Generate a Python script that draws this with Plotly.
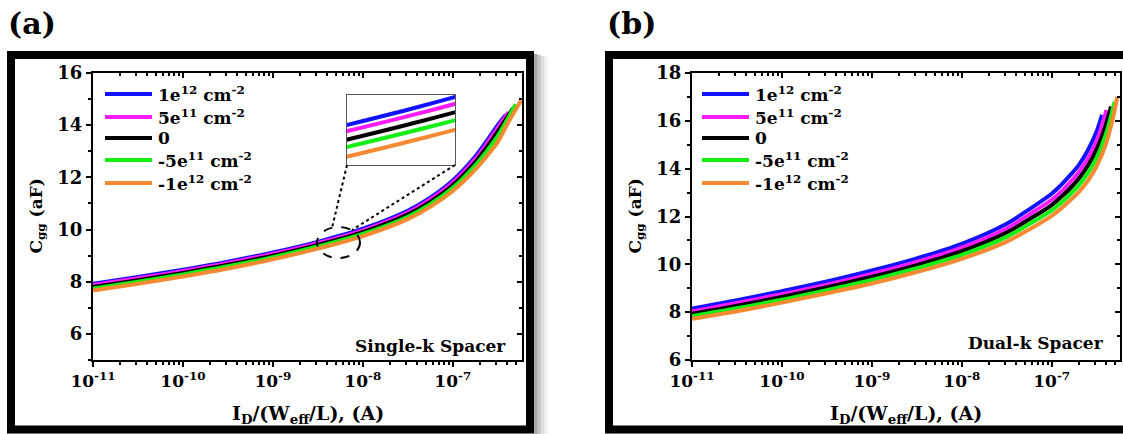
import plotly.graph_objects as go

W, H = 1123, 434

# ---------------- data ----------------
series_names = ["1e<sup>12</sup> cm<sup>-2</sup>", "5e<sup>11</sup> cm<sup>-2</sup>", "0",
                "-5e<sup>11</sup> cm<sup>-2</sup>", "-1e<sup>12</sup> cm<sup>-2</sup>"]
series_colors = ["#1212FF", "#FF1AFF", "#000000", "#14F014", "#F58A33"]

# (a) Single-k spacer: drain current per unit W/L (A) and gate capacitance (aF)
id_a = [
    [1e-11, 3.16e-11, 1e-10, 3.16e-10, 1e-9, 3.16e-9, 1e-8, 3.16e-8, 5.62e-8, 1e-7, 1.78e-7, 2.51e-7, 3.16e-7, 3.89e-7],
    [1e-11, 3.16e-11, 1e-10, 3.16e-10, 1e-9, 3.16e-9, 1e-8, 3.16e-8, 5.62e-8, 1e-7, 1.78e-7, 2.51e-7, 3.16e-7, 4.17e-7],
    [1e-11, 3.16e-11, 1e-10, 3.16e-10, 1e-9, 3.16e-9, 1e-8, 3.16e-8, 5.62e-8, 1e-7, 1.78e-7, 2.51e-7, 3.16e-7, 4.68e-7],
    [1e-11, 3.16e-11, 1e-10, 3.16e-10, 1e-9, 3.16e-9, 1e-8, 3.16e-8, 5.62e-8, 1e-7, 1.78e-7, 2.51e-7, 3.16e-7, 5.01e-7],
    [1e-11, 3.16e-11, 1e-10, 3.16e-10, 1e-9, 3.16e-9, 1e-8, 3.16e-8, 5.62e-8, 1e-7, 1.78e-7, 2.51e-7, 3.16e-7, 3.98e-7, 5.75e-7],
]
cgg_a = [
    [7.92, 8.18, 8.46, 8.77, 9.12, 9.53, 10.03, 10.72, 11.22, 11.88, 12.80, 13.50, 14.00, 14.40],
    [7.87, 8.13, 8.41, 8.72, 9.07, 9.48, 9.97, 10.65, 11.15, 11.80, 12.70, 13.40, 13.90, 14.50],
    [7.80, 8.06, 8.34, 8.65, 9.00, 9.41, 9.90, 10.57, 11.06, 11.70, 12.58, 13.25, 13.75, 14.65],
    [7.74, 8.00, 8.28, 8.59, 8.94, 9.35, 9.83, 10.49, 10.97, 11.60, 12.46, 13.10, 13.58, 14.80],
    [7.66, 7.92, 8.20, 8.51, 8.86, 9.27, 9.75, 10.40, 10.87, 11.48, 12.30, 12.90, 13.35, 14.00, 14.95],
]

# (b) Dual-k spacer
id_b = [
    [1e-11, 3.16e-11, 1e-10, 3.16e-10, 1e-9, 3.16e-9, 1e-8, 3.16e-8, 5.62e-8, 1e-7, 1.26e-7, 1.58e-7, 2.0e-7, 2.51e-7, 3.16e-7, 3.63e-7],
    [1e-11, 3.16e-11, 1e-10, 3.16e-10, 1e-9, 3.16e-9, 1e-8, 3.16e-8, 5.62e-8, 1e-7, 1.26e-7, 1.58e-7, 2.0e-7, 2.51e-7, 3.16e-7, 4.07e-7],
    [1e-11, 3.16e-11, 1e-10, 3.16e-10, 1e-9, 3.16e-9, 1e-8, 3.16e-8, 5.62e-8, 1e-7, 1.26e-7, 1.58e-7, 2.0e-7, 2.51e-7, 3.16e-7, 3.98e-7, 4.57e-7],
    [1e-11, 3.16e-11, 1e-10, 3.16e-10, 1e-9, 3.16e-9, 1e-8, 3.16e-8, 5.62e-8, 1e-7, 1.26e-7, 1.58e-7, 2.0e-7, 2.51e-7, 3.16e-7, 3.98e-7, 5.01e-7],
    [1e-11, 3.16e-11, 1e-10, 3.16e-10, 1e-9, 3.16e-9, 1e-8, 3.16e-8, 5.62e-8, 1e-7, 1.26e-7, 1.58e-7, 2.0e-7, 2.51e-7, 3.16e-7, 3.98e-7, 4.79e-7, 5.37e-7],
]
cgg_b = [
    [8.15, 8.50, 8.88, 9.28, 9.74, 10.25, 10.86, 11.70, 12.30, 12.95, 13.30, 13.70, 14.15, 14.75, 15.55, 16.25],
    [8.03, 8.38, 8.75, 9.15, 9.60, 10.10, 10.70, 11.50, 12.08, 12.70, 13.02, 13.40, 13.85, 14.40, 15.15, 16.45],
    [7.93, 8.27, 8.64, 9.04, 9.48, 9.97, 10.55, 11.33, 11.88, 12.48, 12.80, 13.15, 13.58, 14.10, 14.80, 15.80, 16.60],
    [7.83, 8.16, 8.52, 8.92, 9.35, 9.84, 10.40, 11.15, 11.68, 12.26, 12.56, 12.90, 13.30, 13.80, 14.45, 15.40, 16.80],
    [7.72, 8.04, 8.40, 8.79, 9.20, 9.68, 10.23, 10.95, 11.46, 12.03, 12.32, 12.65, 13.02, 13.48, 14.10, 15.00, 16.10, 17.00],
]

x_tickvals = [1e-11, 1e-10, 1e-9, 1e-8, 1e-7]
x_ticktext = ["10<sup>-11</sup>", "10<sup>-10</sup>", "10<sup>-9</sup>", "10<sup>-8</sup>", "10<sup>-7</sup>"]
x_minor = [m * d for d in [1e-11, 1e-10, 1e-9, 1e-8, 1e-7] for m in range(2, 10)]
ya_ticks = [6, 8, 10, 12, 14, 16]
yb_ticks = [6, 8, 10, 12, 14, 16, 18]
panel_notes = ["Single-k Spacer", "Dual-k Spacer"]

# ---------------- layout geometry (pixels) ----------------
def px(x):
    return x / W

def py(y):
    return 1 - y / H

FONT = "DejaVu Serif"
plot_top, plot_bot = 73, 360
panels = [
    dict(xa="x", ya="y", xt="x3", yt="y3", left=93, right=522, yr=[5, 16], yt_vals=ya_ticks,
         xr=[-11, -6.23], ids=id_a, cgg=cgg_a, frame=(11, 530), label="(a)", label_x=6,
         ytitle_x=37, leg_x=105),
    dict(xa="x2", ya="y2", xt="x4", yt="y4", left=692, right=1120, yr=[6, 18], yt_vals=yb_ticks,
         xr=[-11, -6.24], ids=id_b, cgg=cgg_b, frame=(609, 1132), label="(b)", label_x=605,
         ytitle_x=636, leg_x=702),
]

fig = go.Figure()
layout = dict(
    width=W, height=H, margin=dict(l=0, r=0, t=0, b=0, autoexpand=False),
    paper_bgcolor="white", plot_bgcolor="white", showlegend=False,
    font=dict(family=FONT, size=17, color="black", weight="bold"),
)
shapes, annotations = [], []

for k, p in enumerate(panels):
    xn, yn = p["xa"][1:] or "", p["ya"][1:] or ""
    xkey = "xaxis" + xn
    ykey = "yaxis" + yn
    dom_x = [px(p["left"]), px(p["right"])]
    dom_y = [py(plot_bot), py(plot_top)]
    yminor = [v for v in range(int(p["yr"][0]), int(p["yr"][1]) + 1) if v % 2 == 1]

    layout[xkey] = dict(
        type="log", domain=dom_x, range=p["xr"], anchor=p["ya"], automargin=False,
        showline=True, linewidth=2, linecolor="black", mirror=True,
        showgrid=False, zeroline=False,
        tickmode="array", tickvals=x_tickvals, ticktext=x_ticktext,
        ticks="outside", ticklen=5, tickwidth=2, tickcolor="black",
        tickfont=dict(family=FONT, size=17, weight="bold"),
        minor=dict(tickmode="array", tickvals=x_minor, ticks="outside", ticklen=3,
                   tickwidth=1.5, tickcolor="black", showgrid=False),
    )
    layout[ykey] = dict(
        domain=dom_y, range=p["yr"], anchor=p["xa"], automargin=False,
        showline=True, linewidth=2, linecolor="black", mirror=True,
        showgrid=False, zeroline=False,
        tickmode="array", tickvals=p["yt_vals"],
        ticks="outside", ticklen=5, tickwidth=2, tickcolor="black",
        tickfont=dict(family=FONT, size=18, weight="bold"),
        minor=dict(tickmode="array", tickvals=yminor, ticks="outside", ticklen=3,
                   tickwidth=1.5, tickcolor="black", showgrid=False),
    )
    # top and right axes with inward ticks
    tn, rn = p["xt"][1:], p["yt"][1:]
    layout["xaxis" + tn] = dict(
        type="log", range=p["xr"], overlaying=p["xa"], side="top", anchor=p["ya"],
        automargin=False, showline=False, showgrid=False, zeroline=False, showticklabels=False,
        tickmode="array", tickvals=x_tickvals, ticks="inside", ticklen=5, tickwidth=2,
        tickcolor="black",
        minor=dict(tickmode="array", tickvals=x_minor, ticks="inside", ticklen=3,
                   tickwidth=1.5, tickcolor="black", showgrid=False),
    )
    layout["yaxis" + rn] = dict(
        range=p["yr"], overlaying=p["ya"], side="right", anchor=p["xa"],
        automargin=False, showline=False, showgrid=False, zeroline=False, showticklabels=False,
        tickmode="array", tickvals=p["yt_vals"], ticks="inside", ticklen=5, tickwidth=2,
        tickcolor="black",
        minor=dict(tickmode="array", tickvals=yminor, ticks="inside", ticklen=3,
                   tickwidth=1.5, tickcolor="black", showgrid=False),
    )
    fig.add_trace(go.Scatter(x=[], y=[], xaxis=p["xt"], yaxis=p["yt"], showlegend=False,
                             hoverinfo="skip"))

    # curves
    for name, color, xs, ys in zip(series_names, series_colors, p["ids"], p["cgg"]):
        fig.add_trace(go.Scatter(
            x=xs, y=ys, mode="lines", name=name, xaxis=p["xa"], yaxis=p["ya"],
            line=dict(color=color, width=4, shape="spline", smoothing=1.0),
        ))

    # legend (sample line + label per series)
    leg_rows = [94, 117, 138, 160, 183]
    for name, color, yy in zip(series_names, series_colors, leg_rows):
        shapes.append(dict(type="line", xref="paper", yref="paper",
                           x0=px(p["leg_x"]), x1=px(p["leg_x"] + 47), y0=py(yy), y1=py(yy),
                           line=dict(color=color, width=4)))
        annotations.append(dict(xref="paper", yref="paper", x=px(p["leg_x"] + 51), y=py(yy),
                                text=name, showarrow=False, xanchor="left", yanchor="middle",
                                font=dict(family=FONT, size=17, weight="bold")))

    # panel frame
    fx0, fx1 = p["frame"]
    shapes.append(dict(type="rect", xref="paper", yref="paper", layer="above",
                       x0=px(fx0), x1=px(fx1), y0=py(429.5), y1=py(55),
                       line=dict(color="black", width=8)))
    # panel label
    annotations.append(dict(xref="paper", yref="paper", x=px(p["label_x"]), y=py(23),
                            text=p["label"], showarrow=False, xanchor="left", yanchor="middle",
                            font=dict(family=FONT, size=30, weight="bold")))
    # axis titles
    annotations.append(dict(xref="paper", yref="paper", x=px(p["ytitle_x"]),
                            y=py((plot_top + plot_bot) / 2),
                            text="C<sub>gg</sub> (aF)", textangle=-90, showarrow=False,
                            xanchor="center", yanchor="middle",
                            font=dict(family=FONT, size=17, weight="bold")))
    annotations.append(dict(xref="paper", yref="paper", x=px((p["left"] + p["right"]) / 2),
                            y=py(414), text="I<sub>D</sub>/(W<sub>eff</sub>/L), (A)",
                            showarrow=False, xanchor="center", yanchor="middle",
                            font=dict(family=FONT, size=19, weight="bold")))
    # spacer note
    annotations.append(dict(xref="paper", yref="paper", x=px(p["right"] - 14),
                            y=py(346 if k == 0 else 343), text=panel_notes[k],
                            showarrow=False, xanchor="right", yanchor="middle",
                            font=dict(family=FONT, size=17, weight="bold")))

# soft shadow on the right of frame (a)
for i, a in enumerate([0.35, 0.22, 0.12, 0.05]):
    shapes.append(dict(type="rect", xref="paper", yref="paper", layer="below",
                       x0=px(534 + 3.5 * i), x1=px(537.5 + 3.5 * i), y0=py(434), y1=py(54 + i),
                       fillcolor=f"rgba(0,0,0,{a})", line=dict(width=0)))

# inset magnifying the curves near 5e-9 A in panel (a)
layout["xaxis5"] = dict(type="log", domain=[px(347), px(455)], range=[-8.40, -8.16], anchor="y5",
                        automargin=False, showline=True, linewidth=1, linecolor="#555", mirror=True,
                        showgrid=False, zeroline=False, showticklabels=False, ticks="")
layout["yaxis5"] = dict(domain=[py(165), py(95)], range=[9.29, 9.87], anchor="x5",
                        automargin=False, showline=True, linewidth=1, linecolor="#555", mirror=True,
                        showgrid=False, zeroline=False, showticklabels=False, ticks="")
for name, color, xs, ys in zip(series_names, series_colors, id_a, cgg_a):
    fig.add_trace(go.Scatter(x=xs, y=ys, mode="lines", name=name, xaxis="x5", yaxis="y5",
                             line=dict(color=color, width=4, shape="spline", smoothing=1.0),
                             showlegend=False))

# dashed circle around the magnified region, with dotted leader lines
shapes.append(dict(type="circle", xref="paper", yref="paper", layer="above",
                   x0=px(317), x1=px(360), y0=py(258), y1=py(227),
                   line=dict(color="black", width=2, dash="dash")))
shapes.append(dict(type="line", xref="paper", yref="paper", layer="above",
                   x0=px(347), y0=py(165), x1=px(332), y1=py(228),
                   line=dict(color="black", width=2, dash="dot")))
shapes.append(dict(type="line", xref="paper", yref="paper", layer="above",
                   x0=px(455), y0=py(165), x1=px(352), y1=py(230),
                   line=dict(color="black", width=2, dash="dot")))

layout["shapes"] = shapes
layout["annotations"] = annotations
fig.update_layout(**layout)
fig.write_html("out.html")
